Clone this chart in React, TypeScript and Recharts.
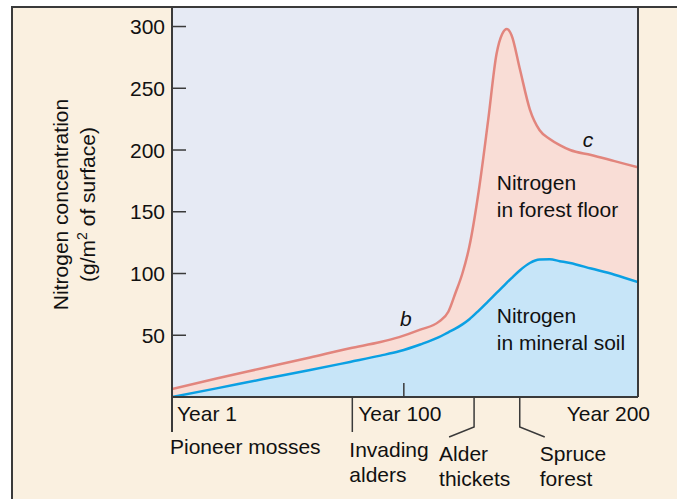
import React from 'react';
import { AreaChart, Area, XAxis, YAxis, CartesianGrid, ReferenceLine, ReferenceDot } from 'recharts';

// years since the glacier retreated
const years = [1, 20, 40, 60, 77, 90, 98, 107, 115, 119, 122, 125, 128, 132, 136, 139.6, 142, 144, 146, 149.5, 153.8, 158, 162.3, 166.6, 171, 180, 190, 200];
// total nitrogen (forest floor + mineral soil), g/m2
const forestTotal = [6.5, 15, 23.5, 32, 39.5, 44.5, 48.5, 54.5, 61, 69, 84, 100, 122, 167, 224, 278, 294, 298, 293, 266, 233, 216, 209, 204, 200, 196, 191, 186];
// nitrogen in mineral soil, g/m2
const mineralSoil = [0, 7, 14.5, 21.8, 28.4, 33.5, 37, 42.5, 48.4, 52.4, 55.3, 58.8, 63, 70, 77.5, 84.3, 88.8, 92.6, 96.3, 102.5, 108.5, 111.3, 111.5, 110, 108.5, 104, 99, 93];

const yTicks = [50, 100, 150, 200, 250, 300];
const yearTicks = [1, 100, 200];
const yearLabels = ['Year 1', 'Year 100', 'Year 200'];
const stageYears = [1, 78, 130, 149.5];
const stageLabels = [['Pioneer mosses'], ['Invading', 'alders'], ['Alder', 'thickets'], ['Spruce', 'forest']];
const allXTicks = [1, 78, 100, 130, 149.5, 200];

const noteYears = [139.7, 139.7, 98.4, 176.4];
const noteValues = [167.6, 59.7, 57.5, 202.7];
const noteTexts = [['Nitrogen', 'in forest floor'], ['Nitrogen', 'in mineral soil'], ['b'], ['c']];

const data = years.map((year, i) => ({ year, total: forestTotal[i], mineral: mineralSoil[i] }));

const INK = '#111';
const RULE = '#3a3a3a';
const FS = 21;

const CountTick = (props: any) => {
  const { x, y, payload } = props;
  return (
    <g>
      <line x1={x} y1={y} x2={x + 14} y2={y} stroke={RULE} strokeWidth={1.5} />
      <text x={x - 7} y={y} dy={7.5} textAnchor="end" fontSize={FS} fill={INK}>{payload.value}</text>
    </g>
  );
};

const XTick = (props: any) => {
  const { x, y, payload } = props;
  const yi = yearTicks.indexOf(payload.value);
  const si = stageYears.indexOf(payload.value);
  let year = null;
  if (yi >= 0) {
    const anchor = yi === 0 ? 'start' : yi === 1 ? 'middle' : 'end';
    const dx = yi === 0 ? 5 : yi === 1 ? -4 : 12;
    year = (
      <g>
        {yi === 1 && <line x1={x} y1={y} x2={x} y2={y - 14} stroke={RULE} strokeWidth={1.5} />}
        <text x={x + dx} y={y + 24} textAnchor={anchor} fontSize={FS} fill={INK}>{yearLabels[yi]}</text>
      </g>
    );
  }
  let stage = null;
  if (si >= 0) {
    const dx = [-2, -3, -35, 20][si];
    const first = [57, 60, 64, 64][si];
    let path = `M${x},${y} L${x},${y + 35}`;
    if (si === 2) path = `M${x},${y} L${x},${y + 30} L${x - 25},${y + 40}`;
    if (si === 3) path = `M${x},${y} L${x},${y + 30} L${x + 25},${y + 40}`;
    stage = (
      <g>
        <path d={path} fill="none" stroke={RULE} strokeWidth={si === 0 ? 2 : 1.5} />
        {stageLabels[si].map((s, k) => (
          <text key={k} x={x + dx} y={y + first + k * 25} fontSize={FS} fill={INK}>{s}</text>
        ))}
      </g>
    );
  }
  return <g>{stage}{year}</g>;
};

const YTitle = (props: any) => {
  const vb = props.viewBox || { x: 112, y: 8, width: 60, height: 389 };
  const cy = vb.y + vb.height / 2 + 2;
  const x1 = vb.x + vb.width - 104;
  const x2 = vb.x + vb.width - 77;
  return (
    <g fontSize={FS} fill={INK}>
      <text x={x1} y={cy} textAnchor="middle" transform={`rotate(-90, ${x1}, ${cy})`}>Nitrogen concentration</text>
      <text x={x2} y={cy} textAnchor="middle" transform={`rotate(-90, ${x2}, ${cy})`}>
        (g/m<tspan fontSize={14} dy={-8}>2</tspan><tspan dy={8}> of surface)</tspan>
      </text>
    </g>
  );
};

const Note = (i: number) => (p: any) => (
  <g>
    {noteTexts[i].map((s, k) => (
      <text key={k} x={p.cx} y={p.cy + k * 27} fontSize={FS} fill={INK} fontStyle={noteTexts[i].length === 1 ? 'italic' : 'normal'}>{s}</text>
    ))}
  </g>
);

export default function App() {
  return (
    <div style={{ position: 'absolute', left: 0, top: 0, width: 677, height: 499, background: '#fff', overflow: 'hidden', fontFamily: '"Liberation Sans", Arial, sans-serif' }}>
      <div style={{ position: 'absolute', left: 11, top: 6, width: 700, height: 600, background: '#faf0e0', borderLeft: `2px solid ${RULE}`, borderTop: `2px solid ${RULE}` }} />
      <div style={{ position: 'absolute', left: 0, top: 0 }}>
        <AreaChart width={677} height={499} data={data} margin={{ top: 8, right: 39, bottom: 42, left: 112 }}>
          <CartesianGrid horizontal={false} vertical={false} fill="#e6eaf4" stroke="none" />
          <XAxis dataKey="year" type="number" domain={[1, 200]} ticks={allXTicks} interval={0} height={60}
            tickSize={0} tickMargin={0} tickLine={false} axisLine={{ stroke: RULE, strokeWidth: 2 }} tick={<XTick />} allowDataOverflow />
          <YAxis type="number" domain={[0, 315]} ticks={yTicks} interval={0} width={60} tickSize={0} tickMargin={0}
            tickLine={false} axisLine={{ stroke: RULE, strokeWidth: 2 }} tick={<CountTick />} label={<YTitle />} allowDataOverflow />
          <Area type="monotone" dataKey="total" stroke="#e2857d" strokeWidth={2.5} fill="#f9ddd6" fillOpacity={1}
            dot={false} activeDot={false} isAnimationActive={false} />
          <Area type="monotone" dataKey="mineral" stroke="#0ba0e3" strokeWidth={2.5} fill="#c7e5f8" fillOpacity={1}
            dot={false} activeDot={false} isAnimationActive={false} />
          <ReferenceLine x={200} stroke={RULE} strokeWidth={2} />
          {noteYears.map((yr, i) => (
            <ReferenceDot key={i} x={yr} y={noteValues[i]} r={0} shape={Note(i)} />
          ))}
        </AreaChart>
      </div>
    </div>
  );
}
